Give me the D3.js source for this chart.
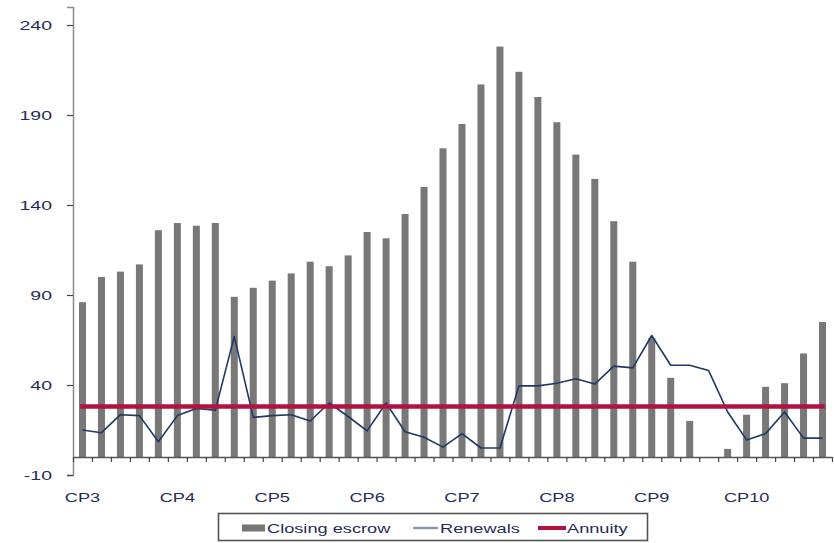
<!DOCTYPE html>
<html>
<head>
<meta charset="utf-8">
<script src="https://cdn.jsdelivr.net/npm/d3@7"></script>
<style>
  html, body { margin: 0; padding: 0; background: #fff; }
  svg { display: block; }
  text { font-family: "Liberation Sans", Arial, sans-serif; }
</style>
</head>
<body>
<svg id="chart" width="834" height="543"></svg>
<script>
// Control periods, five years each
const periods = ["CP3", "CP4", "CP5", "CP6", "CP7", "CP8", "CP9", "CP10"];
const yearsPerPeriod = 5;

// Closing escrow balance per year
const closingEscrow = [
  86, 100, 103, 107, 126,
  130, 128.5, 130, 89, 94,
  98, 102, 108.5, 106, 112,
  125, 121.5, 135, 150, 171.5,
  185, 207, 228, 214, 200,
  186, 168, 154.5, 131, 108.5,
  66, 44, 20, 0, 4.5,
  23.5, 39, 41, 57.5, 75
];

// Renewals spend per year
const renewals = [
  15, 13.5, 23.5, 23, 8.5,
  23, 27, 26, 67, 22,
  23, 23.5, 20, 30, 22.5,
  14.5, 30, 14, 11, 5.5,
  13, 5, 5, 39.5, 39.5,
  41, 43.5, 40.5, 50.5, 49.5,
  67.5, 51, 51, 48, 25,
  9.5, 13, 25, 10.5, 10.5
];

// Annuity per year
const annuity = [
  28, 28, 28, 28, 28, 28, 28, 28, 28, 28,
  28, 28, 28, 28, 28, 28, 28, 28, 28, 28,
  28, 28, 28, 28, 28, 28, 28, 28, 28, 28,
  28, 28, 28, 28, 28, 28, 28, 28, 28, 28
];

const yTicks = [-10, 40, 90, 140, 190, 240];
const yDomain = [-10, 250];

const seriesNames = ["Closing escrow", "Renewals", "Annuity"];
const colors = { bar: "#787878", renew: "#1f3864", annuity: "#b3123f", text: "#1f2d57", legendRenew: "#8c99ab" };

const svg = d3.select("#chart");
const plot = { left: 73, right: 832, top: 7, bottom: 475 };
const textStretch = 1.4;

const idx = d3.range(closingEscrow.length);
const x = d3.scaleBand().domain(idx).range([plot.left, plot.right]).paddingInner(0.63).paddingOuter(0.315);
const xEdges = d3.scaleLinear().domain([0, idx.length]).range([plot.left, plot.right]);
const y = d3.scaleLinear().domain(yDomain).range([plot.bottom, plot.top]);
const cx = i => x(i) + x.bandwidth() / 2;

// Bars
svg.append("g").selectAll("rect")
  .data(closingEscrow)
  .join("rect")
  .attr("x", (d, i) => x(i))
  .attr("width", x.bandwidth())
  .attr("y", d => y(Math.max(0, d)))
  .attr("height", d => Math.abs(y(d) - y(0)))
  .attr("fill", colors.bar);

// Y axis
const yAxis = svg.append("g")
  .attr("transform", `translate(${plot.left},0)`)
  .call(d3.axisLeft(y).tickValues(yTicks).tickSize(6).tickFormat(""));
yAxis.select(".domain").attr("stroke", "#8a8a8a").attr("stroke-width", 1.5);
yAxis.selectAll(".tick line").attr("stroke", "#444").attr("stroke-width", 1.2);

svg.append("g").selectAll("text")
  .data(yTicks)
  .join("text")
  .attr("transform", d => `translate(52,${y(d)}) scale(${textStretch + 0.1},1)`)
  .attr("text-anchor", "end")
  .attr("dy", "0.36em")
  .attr("font-size", 13)
  .attr("fill", colors.text)
  .text(d => d);

// X axis at zero with a tick between every year
const xAxis = svg.append("g")
  .attr("transform", `translate(0,${y(0)})`)
  .call(d3.axisBottom(xEdges).tickValues(d3.range(idx.length + 1)).tickSize(5).tickFormat("").tickSizeOuter(0));
xAxis.select(".domain").attr("stroke", "#555").attr("stroke-width", 1.3);
xAxis.selectAll(".tick line").attr("stroke", "#444").attr("stroke-width", 1.2);

// Period labels under the first year of each period
svg.append("g").selectAll("text")
  .data(periods)
  .join("text")
  .attr("transform", (d, k) => `translate(${cx(k * yearsPerPeriod)},502) scale(${textStretch},1)`)
  .attr("text-anchor", "middle")
  .attr("font-size", 13)
  .attr("fill", colors.text)
  .text(d => d);

// Renewals line
const line = d3.line().x((d, i) => cx(i)).y(d => y(d));
svg.append("path")
  .datum(renewals)
  .attr("d", line)
  .attr("fill", "none")
  .attr("stroke", colors.renew)
  .attr("stroke-width", 1.6)
  .attr("stroke-linejoin", "round");

// Annuity line
svg.append("path")
  .datum(annuity)
  .attr("d", line)
  .attr("fill", "none")
  .attr("stroke", colors.annuity)
  .attr("stroke-width", 4.5)
  .attr("stroke-linecap", "square");

// Legend
const legend = svg.append("g");
legend.append("rect")
  .attr("x", 218.5).attr("y", 513.5).attr("width", 429).attr("height", 27)
  .attr("fill", "#fff").attr("stroke", "#555").attr("stroke-width", 1.6);

const lgY = 528;
legend.append("rect")
  .attr("x", 242).attr("y", lgY - 3.5).attr("width", 23).attr("height", 7)
  .attr("fill", colors.bar);
legend.append("line")
  .attr("x1", 413).attr("x2", 438).attr("y1", lgY).attr("y2", lgY)
  .attr("stroke", colors.legendRenew).attr("stroke-width", 2.5);
legend.append("line")
  .attr("x1", 538).attr("x2", 566).attr("y1", lgY).attr("y2", lgY)
  .attr("stroke", colors.annuity).attr("stroke-width", 4);

const legendTextX = [267, 440, 567];
legend.selectAll("text.lg")
  .data(seriesNames)
  .join("text")
  .attr("class", "lg")
  .attr("transform", (d, i) => `translate(${legendTextX[i]},${lgY}) scale(${textStretch},1)`)
  .attr("dy", "0.36em")
  .attr("font-size", 13)
  .attr("fill", colors.text)
  .text(d => d);
</script>
</body>
</html>
